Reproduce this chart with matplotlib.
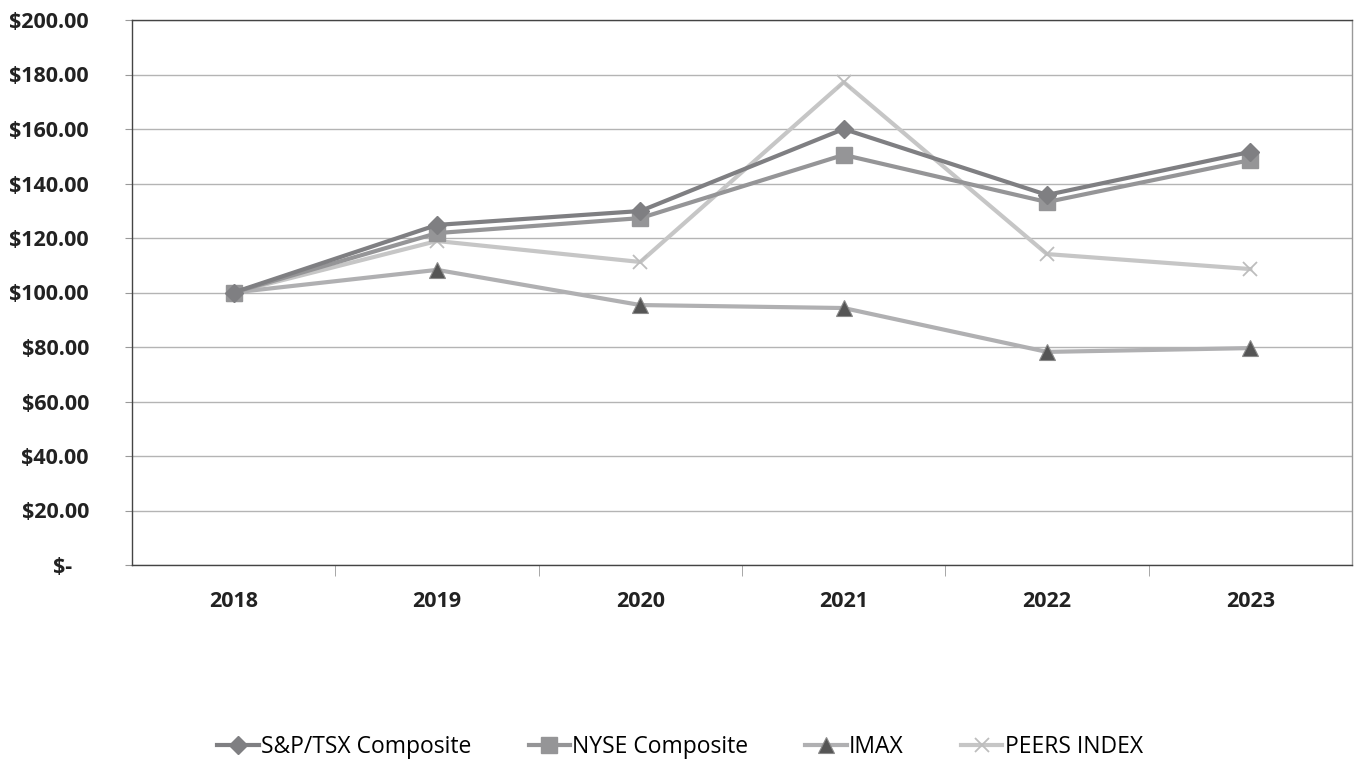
import matplotlib
matplotlib.use("Agg")
import matplotlib.pyplot as plt
from matplotlib.ticker import FixedLocator, FuncFormatter

plt.rcParams["font.family"] = ["Open Sans", "DejaVu Sans"]

years = ["2018", "2019", "2020", "2021", "2022", "2023"]
sp_tsx = [100.0, 124.8, 129.9, 160.0, 135.8, 151.6]
nyse = [100.0, 121.8, 127.3, 150.5, 133.2, 148.6]
imax = [100.0, 108.3, 95.4, 94.3, 78.2, 79.6]
peers = [100.0, 118.9, 111.2, 177.2, 114.1, 108.6]
y_ticks = list(range(0, 201, 20))

fig = plt.figure(figsize=(13.6, 7.59), dpi=100)
ax = fig.add_axes([132 / 1360, 1 - 565 / 759, 1220 / 1360, 545 / 759])

x = list(range(len(years)))
# draw in reverse so the darker series sit on top
ax.plot(x, peers, color="#c6c6c6", lw=3, marker="x", ms=10, mew=1.3,
        mec="#bdbdbd", label="PEERS INDEX", zorder=3)
ax.plot(x, imax, color="#b0b0b2", lw=3, marker="^", ms=11,
        mfc="#555555", mec="#8a8a8a", mew=0.8, label="IMAX", zorder=4)
ax.plot(x, nyse, color="#959597", lw=3, marker="s", ms=11,
        mfc="#959597", mec="#959597", label="NYSE Composite", zorder=5)
ax.plot(x, sp_tsx, color="#7f7f82", lw=3, marker="D", ms=9,
        mfc="#7f7f82", mec="#7f7f82", label="S&P/TSX Composite", zorder=6)

ax.set_xlim(-0.5, len(years) - 0.5)
ax.set_ylim(0, 200)
ax.yaxis.set_major_locator(FixedLocator(y_ticks))
# accounting style: zero shows as "$-" with trailing padding
ax.yaxis.set_major_formatter(FuncFormatter(
    lambda v, p: "$-   " if v == 0 else f"${v:,.2f}"))
ax.grid(axis="y", color="#b4b4b4", lw=1)
ax.set_axisbelow(True)

ax.set_xticks(x)
ax.set_xticklabels(years)
ax.set_xticks([i + 0.5 for i in x[:-1]], minor=True)
ax.tick_params(axis="x", which="major", length=0, pad=19)
ax.tick_params(axis="x", which="minor", length=8, color="#999999")
ax.tick_params(axis="y", length=5, color="#999999", pad=26)
for lab in ax.get_xticklabels() + ax.get_yticklabels():
    lab.set_fontweight("bold")
    lab.set_fontsize(15.5)
    lab.set_color("#222222")

for s in ax.spines.values():
    s.set_color("#444444")
    s.set_linewidth(1)
ax.spines["right"].set_color("#999999")

h, l = ax.get_legend_handles_labels()
fig.legend(h[::-1], l[::-1], loc="center", bbox_to_anchor=(680 / 1360, 1 - 747 / 759),
           ncol=4, frameon=False, fontsize=16.5, handlelength=1.8, columnspacing=2.5,
           handletextpad=0.1)

fig.savefig("out.png", dpi=100)
